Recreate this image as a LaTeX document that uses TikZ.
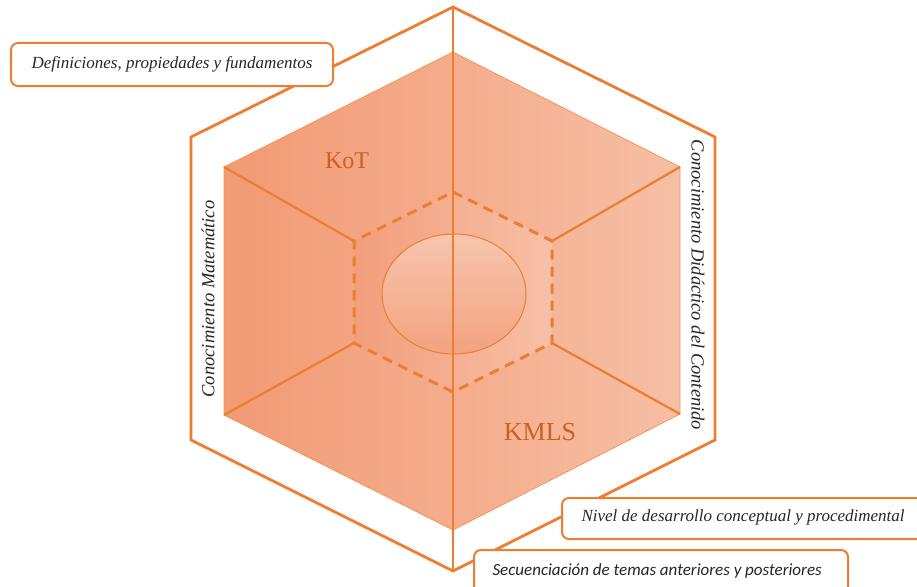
\documentclass[tikz,border=0pt]{standalone}
\usepackage{fontspec}
\setmainfont{Liberation Serif}[ItalicFont={Liberation Serif Italic}]
\newfontfamily\boxsans{Carlito}
\definecolor{org}{HTML}{ED7D31}
\definecolor{kdark}{HTML}{C9621F}
\definecolor{fillL}{HTML}{F29A74}
\definecolor{fillR}{HTML}{F6BFA5}
\definecolor{dashL}{HTML}{F29E7C}
\definecolor{dashR}{HTML}{F7C0A6}
\tikzset{
  edge/.style={draw=org, line width=2.8pt, line join=miter},
  thin edge/.style={draw=org, line width=2.2pt},
  dash edge/.style={draw=org, line width=3pt, dash pattern=on 10pt off 7pt},
  label box/.style={draw=org, line width=2pt, fill=white, rounded corners=7pt, inner sep=0pt, anchor=north west},
  side text/.style={font=\fontsize{18.5}{21}\selectfont\itshape, text=black!85},
  box text/.style={font=\fontsize{17}{20}\selectfont\itshape, text=black!85},
  big text/.style={font=\fontsize{24}{28}\selectfont, text=kdark}
}
\begin{document}
\begin{tikzpicture}[x=1pt,y=-1pt]
\useasboundingbox (0,0) rectangle (917,586);
% coordinates
\coordinate (O1) at (453,7);   \coordinate (O2) at (715,137);
\coordinate (O3) at (715,440); \coordinate (O4) at (453,571);
\coordinate (O5) at (191,440); \coordinate (O6) at (191,137);
\coordinate (I1) at (453,52);  \coordinate (I2) at (680,167);
\coordinate (I3) at (680,414); \coordinate (I4) at (453,530);
\coordinate (I5) at (224,415); \coordinate (I6) at (224,167);
\coordinate (D1) at (453,192); \coordinate (D2) at (552,241);
\coordinate (D3) at (552,343); \coordinate (D4) at (453,392);
\coordinate (D5) at (354,343); \coordinate (D6) at (354,241);
% filled inner hexagon
\shade[left color=fillL, right color=fillR, draw=org!80, line width=0.8pt]
  (I1) -- (I2) -- (I3) -- (I4) -- (I5) -- (I6) -- cycle;
\shade[left color=dashL, right color=dashR]
  (D1) -- (D2) -- (D3) -- (D4) -- (D5) -- (D6) -- cycle;
% edges inner faces
\draw[thin edge] (D6) -- (I6);
\draw[thin edge] (D5) -- (I5);
\draw[thin edge] (D2) -- (I2);
\draw[thin edge] (D3) -- (I3);
% dashed hexagon
\draw[dash edge] (D1) -- (D2) -- (D3) -- (D4) -- (D5) -- (D6) -- cycle;
% ellipse
\shade[top color=fillR!90!white, bottom color=fillL!92!white, draw=org, line width=1pt]
  (454,294) ellipse [x radius=72pt, y radius=60pt];
% outer hexagon
\draw[edge] (O1) -- (O2) -- (O3) -- (O4) -- (O5) -- (O6) -- cycle;
% vertical axis
\draw[edge] (O1) -- (O4);
% big labels
\node[big text] (kot) at (347,161) {KoT};
\node[big text, font=\fontsize{26}{30}\selectfont] (kmls) at (540,432) {KMLS};
% side labels
\node[side text, rotate=90] (cm) at (208,299) {Conocimiento Matemático};
\node[side text, rotate=-90] (cdc) at (698,285) {Conocimiento Didáctico del Contenido};
% boxes
\node[label box, minimum width=322pt, minimum height=43pt] (b1) at (10,42) {};
\node[box text] (t1) at (b1.center) {Definiciones, propiedades y fundamentos};
\node[label box, minimum width=380pt, minimum height=41pt] (b2) at (561,497) {};
\node[box text, anchor=west] (t2) at (578,517.5) {Nivel de desarrollo conceptual y procedimental};
\node[label box, minimum width=374pt, minimum height=50pt] (b3) at (473,549) {};
\node[font=\fontsize{17}{20}\selectfont\boxsans\itshape, text=black!85, anchor=west] (t3) at (489,571) {Secuenciación de temas anteriores y posteriores};
\end{tikzpicture}
\end{document}
